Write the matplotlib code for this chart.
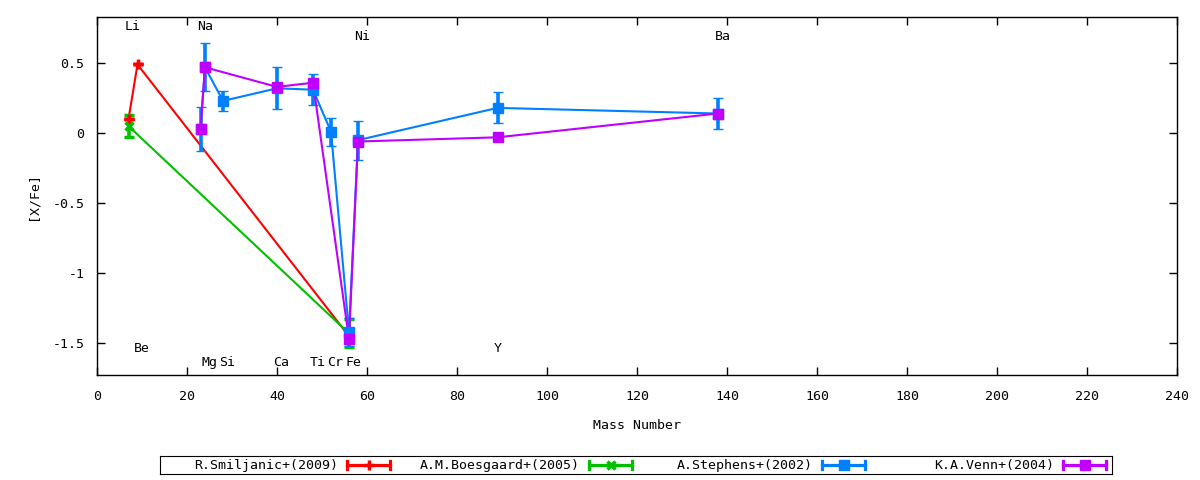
import matplotlib
matplotlib.use('Agg')
import matplotlib.pyplot as plt

plt.rcParams['font.family'] = 'DejaVu Sans Mono'
plt.rcParams['font.size'] = 9.5
plt.rcParams['axes.unicode_minus'] = False

# element labels: name, mass number, y position of the label
elem_names = ['Li', 'Be', 'Na', 'Mg', 'Si', 'Ca', 'Ti', 'Cr', 'Fe', 'Ni', 'Y', 'Ba']
elem_mass = [7, 9, 23, 24, 28, 40, 48, 52, 56, 58, 89, 138]
elem_ypos = [0.76, -1.54, 0.76, -1.64, -1.64, -1.64, -1.64, -1.64, -1.64, 0.69, -1.54, 0.69]

# R.Smiljanic+(2009)
smil_mass = [7, 9, 56]
smil_val = [0.10, 0.49, -1.45]
smil_err = [0.0, 0.0, 0.0]

# A.M.Boesgaard+(2005)
boes_mass = [7, 56]
boes_val = [0.05, -1.43]
boes_err = [0.08, 0.10]

# A.Stephens+(2002)
step_mass = [23, 24, 28, 40, 48, 52, 56, 58, 89, 138]
step_val = [0.03, 0.47, 0.23, 0.32, 0.31, 0.01, -1.42, -0.05, 0.18, 0.14]
step_err = [0.16, 0.17, 0.07, 0.15, 0.11, 0.10, 0.10, 0.14, 0.11, 0.11]

# K.A.Venn+(2004)
venn_mass = [23, 24, 40, 48, 56, 58, 89, 138]
venn_val = [0.03, 0.47, 0.33, 0.36, -1.47, -0.06, -0.03, 0.14]
venn_err = [0.0, 0.0, 0.0, 0.0, 0.0, 0.0, 0.0, 0.0]

xticks = [0, 20, 40, 60, 80, 100, 120, 140, 160, 180, 200, 220, 240]
yticks = [0.5, 0, -0.5, -1, -1.5]
ytick_labels = ['0.5', '0', '-0.5', '-1', '-1.5']

series = [
    ('R.Smiljanic+(2009)', smil_mass, smil_val, smil_err, '#ff0000', '+', 7, 2.5),
    ('A.M.Boesgaard+(2005)', boes_mass, boes_val, boes_err, '#00c000', 'x', 6, 2.5),
    ('A.Stephens+(2002)', step_mass, step_val, step_err, '#0080ff', 's', 6.5, 1),
    ('K.A.Venn+(2004)', venn_mass, venn_val, venn_err, '#c000ff', 's', 7.5, 1),
]

fig = plt.figure(figsize=(12, 4.8), dpi=100)
ax = fig.add_axes([97 / 1200, 1 - 375 / 480, 1080 / 1200, 358 / 480])

for name, m, v, e, c, mk, ms, mew in series:
    ax.plot(m, v, color=c, lw=1.5)
    ax.errorbar(m, v, yerr=e, fmt=mk, color=c, ms=ms, mew=mew,
                elinewidth=2.6, capsize=3.7, capthick=2.6)

for n, m, y in zip(elem_names, elem_mass, elem_ypos):
    ax.text(m - 0.8, y, n, ha='left', va='center')

ax.set_xlim(0, 240)
ax.set_ylim(-1.727, 0.829)
ax.set_xticks(xticks)
ax.set_yticks(yticks)
ax.set_yticklabels(ytick_labels)
ax.tick_params(direction='in', length=6, width=1, top=True, right=True)
ax.tick_params(axis='x', pad=11)
ax.tick_params(axis='y', pad=9)
for s in ax.spines.values():
    s.set_linewidth(1)
ax.set_xlabel('Mass Number', labelpad=11)
ax.set_ylabel('[X/Fe]', labelpad=9)

# key box below the plot, gnuplot style
lg = fig.add_axes([160 / 1200, 1 - 474 / 480, 952 / 1200, 18 / 480])
lg.set_xlim(160, 1112)
lg.set_ylim(474, 456)
lg.set_xticks([])
lg.set_yticks([])
text_right = [338, 580, 813, 1054]
for (name, m, v, e, c, mk, ms, mew), tx in zip(series, text_right):
    x0, x1 = tx + 9, tx + 52
    lg.text(tx, 465, name, ha='right', va='center')
    lg.plot([x0, x1], [465, 465], color=c, lw=2.3)
    lg.plot([x0, x0], [461, 469], color=c, lw=2.3)
    lg.plot([x1, x1], [461, 469], color=c, lw=2.3)
    lg.plot([(x0 + x1) / 2], [465], marker=mk, color=c, ms=ms, mew=mew)

fig.savefig('out.png', dpi=100)
